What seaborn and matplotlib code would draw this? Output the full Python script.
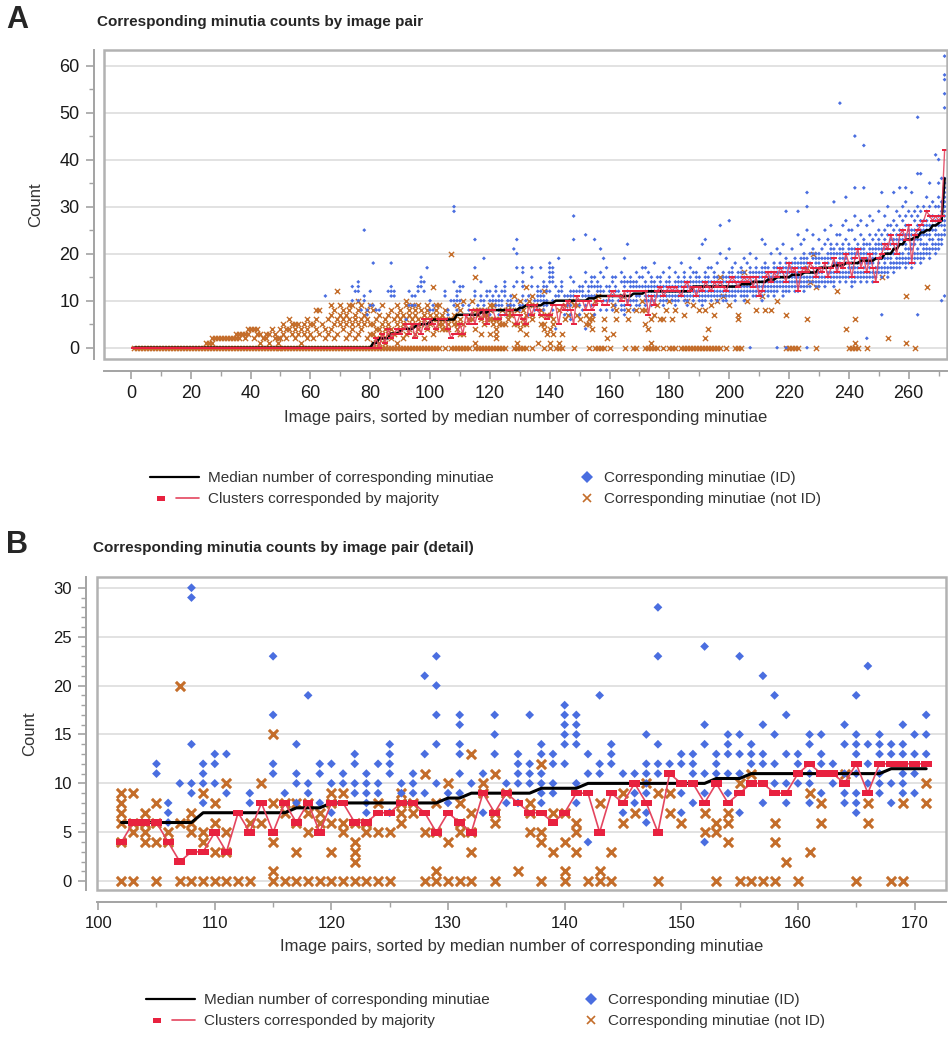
import numpy as np
import pandas as pd
import matplotlib
matplotlib.use("Agg")
import matplotlib.pyplot as plt
import seaborn as sns
from matplotlib.patches import Rectangle
from matplotlib.lines import Line2D
from matplotlib.path import Path
from matplotlib.legend_handler import HandlerTuple

# ---------------- DATA ----------------
# Panel B (detail, pairs 102-171): median, cluster-majority, ID counts, not-ID counts
b_pairs = list(range(102, 172))
b_median = [6, 6, 6, 6, 6, 6, 6, 7, 7, 7,
            7, 7, 7, 7, 7, 7.5, 7.5, 7.5, 8, 8,
            8, 8, 8, 8, 8, 8, 8, 8, 8.5, 8.5,
            9, 9, 9, 9, 9, 9, 9.5, 9.5, 9.5, 9.5,
            10, 10, 10, 10, 10, 10, 10, 10, 10, 10,
            10, 10.5, 10.5, 10.5, 11, 11, 11, 11, 11, 11,
            11, 11, 11, 11, 11, 11, 11.5, 11.5, 11.5, 11.5]
b_cluster = [4, 6, 6, 6, 4, 2, 3, 3, 5, 3,
             7, 5, 8, 5, 8, 6, 8, 5, 8, 8,
             6, 6, 7, 7, 8, 8, 7, 5, 7, 6,
             5, 9, 7, 9, 8, 7, 7, 6, 7, 9,
             9, 5, 9, 8, 10, 8, 5, 11, 10, 10,
             8, 10, 8, 9, 10, 10, 9, 9, 11, 12,
             11, 11, 10, 12, 9, 12, 12, 12, 12, 12]
b_id = [[], [], [], [12, 11], [8, 7, 6], [10], [30, 29, 14, 10, 9], [12, 11, 10, 8], [13, 12, 10], [13, 9],
        [], [9, 8], [], [23, 17, 12, 11], [9], [14, 11, 10, 8], [19, 10, 9], [12, 11, 8], [12, 10, 7], [11, 10],
        [13, 12, 10, 9], [11, 10, 9, 8, 7], [12, 10, 9], [14, 13, 12, 11, 7], [10, 9], [11, 10, 9], [21, 13, 9],
        [23, 20, 17, 14, 10], [9, 8], [17, 16, 14, 13, 11, 9],
        [10], [11, 7], [17, 15, 13], [10, 8], [13, 12, 11, 10, 8], [17, 12, 11, 10], [14, 13, 11, 10, 9, 8],
        [13, 12, 10, 9], [18, 17, 16, 15, 14, 12], [17, 16, 15, 14, 10, 8],
        [13, 11, 4], [19, 12, 11], [14, 13, 12], [11, 7], [11, 9, 8], [15, 12, 11, 10, 9, 7, 6],
        [28, 23, 14, 12, 11], [12], [13, 12, 9, 7], [13, 12, 11, 8],
        [24, 16, 14, 11, 9, 4], [13, 12, 11], [15, 14, 13, 11, 9], [23, 15, 13, 11, 7], [14, 13, 12],
        [21, 16, 13, 12, 8], [19, 15, 12, 10], [17, 13, 10, 8], [13, 12, 10], [15, 14, 11, 10, 8],
        [15, 13, 12, 9], [12, 10], [16, 14, 11, 9, 8], [19, 15, 14, 13, 11, 9, 8, 7], [22, 14, 12, 10],
        [15, 14, 13, 11, 10, 9], [14, 13, 10, 8], [16, 14, 13, 11, 10, 9], [15, 13, 11, 9], [17, 15, 13]]
b_nid = [[9, 8, 7, 6, 4, 0], [9, 6, 5, 0], [7, 6, 5, 4], [8, 6, 4, 0], [5, 4], [20, 6, 0], [7, 6, 5, 0],
         [9, 5, 4, 0], [8, 6, 3, 0], [10, 5, 3, 0],
         [0], [6, 0], [10, 6], [15, 8, 4, 1, 0], [8, 7, 0], [8, 6, 3, 0], [8, 7, 5, 0], [7, 6, 0],
         [9, 8, 6, 3, 0], [9, 6, 5, 0],
         [6, 4, 3, 2, 0], [6, 5, 0], [8, 5, 0], [5, 0], [9, 8, 7, 6], [8, 7], [11, 5, 0], [8, 5, 1, 0],
         [10, 4, 0], [8, 6, 5, 0],
         [13, 7, 5, 3, 0], [10, 9], [11, 7, 6, 0], [9], [1], [8, 7, 5], [12, 5, 4, 0], [7, 3], [7, 4, 1, 0],
         [6, 5, 3],
         [0], [8, 1, 0], [3, 0], [9, 6], [7], [10], [9, 0], [9, 7], [6], [],
         [7, 5], [6, 5, 0], [7, 6, 4], [10, 0], [11, 0], [0], [6, 4, 0], [2], [0], [9, 3],
         [8, 6], [], [11], [0], [8, 6], [], [0], [8, 0], [], [10, 8]]

# Panel A, pairs 1-101
a_lo_median = [0] * 80 + [1, 1, 2, 2, 2, 2, 3, 3, 3, 3.5, 4, 4, 4, 4, 4.5, 5, 5, 5, 5, 5.5, 6]
a_lo_cluster = [0] * 80 + [0, 2, 0, 3, 1, 4, 2, 3, 4, 3, 4, 5, 3, 5, 2, 5, 3, 6, 4, 6, 5]
a_lo_nid = ["0"] * 24 + [
    "0 1", "0 1", "0 1 2", "0 2", "0 2", "0 2", "0 2", "0 2", "0 2", "0 2",
    "0 2 3", "0 2 3", "0 3", "0 2 3", "0 3 4", "0 4", "0 2 4", "0 3 4", "0 1 3", "0 2",
    "0 2 3", "0 1 3", "0 4", "0 2 3", "0 1 2", "0 2 4", "0 3 5", "0 2 4", "0 4 6", "0 3 5",
    "0 2 4 5", "0 3 5", "0 1 4", "0 3 5", "0 2 4 6", "0 3 5", "0 2 5", "0 4 6 8", "0 3 8", "0 5",
    "0 2 4", "0 3 6", "0 4 7 9", "0 2 5 8", "0 3 6 12", "0 5 7 9", "0 4 6 8", "0 2 5 7", "0 3 6 8 9", "0 4 5 9",
    "0 2 6 7", "0 3 5 8 10", "0 4 6 9", "0 5 7", "0 2 6 8", "0 3 5 9", "0 1 3 5 8", "0 2 4 6", "0 1 4 7", "0 2 3 5 9",
    "0 1 4 6", "0 3 5 7", "0 2 4 8", "0 3 6", "0 1 5 7 9", "0 4 6 8", "0 2 5 7", "0 3 6 9 10", "0 4 7 8", "0 5 6 9",
    "0 3 7 8", "0 4 6 9", "0 5 8", "0 2 6 7", "0 4 8 9", "0 5 7", "0 3 6 13"]
a_lo_id = {65: "11", 74: "10 13", 75: "12", 76: "10 12 13 14", 77: "8", 78: "10 11 25", 79: "7 8",
           80: "9 12", 81: "9 18", 82: "8", 83: "8", 86: "12", 87: "11 12 13 18", 88: "11 12",
           92: "6", 93: "9 12", 94: "9 11", 95: "9 11", 96: "12 13", 97: "13 14 15", 98: "12 14",
           99: "17", 100: "8 10", 101: "8 9"}

# Panel A, pairs 172-272
a_hi_median = [12, 12, 12, 12, 12, 12, 12, 12, 12, 12,
               12, 12, 12, 12, 12, 12, 13, 13, 13, 13,
               13, 13, 13, 13, 13, 13, 13, 13, 13, 13,
               13, 13, 13.5, 13.5, 13.5, 13.5, 14, 14, 14, 14,
               14, 14.5, 14.5, 14.5, 15, 15, 15, 15, 15, 15.5,
               15.5, 15.5, 15.5, 16, 16, 16, 16, 16, 17, 17,
               17, 17, 17, 17.5, 17.5, 17.5, 17.5, 18, 18, 18,
               18, 18, 18.5, 18.5, 18.5, 18.5, 18.5, 19, 19, 19,
               20, 20, 20, 21, 21, 22, 22, 23, 23, 23,
               23.5, 23.5, 24.5, 24.5, 25, 25, 26, 26, 26.5, 27,
               36]
a_hi_cluster = [12, 7, 11, 9, 12, 13, 11, 12, 13, 12,
                13, 12, 11, 13, 14, 12, 13, 11, 13, 12,
                14, 13, 12, 14, 13, 14, 13, 12, 14, 15,
                14, 13, 14, 15, 14, 15, 13, 15, 11, 12,
                15, 16, 14, 16, 15, 17, 16, 14, 18, 16,
                17, 12, 16, 17, 16, 18, 17, 15, 17, 16,
                18, 15, 17, 19, 16, 18, 17, 20, 18, 15,
                19, 21, 17, 19, 16, 20, 17, 14, 19, 20,
                22, 21, 24, 22, 20, 24, 25, 23, 26, 18,
                24, 25, 26, 27, 29, 28, 27, 28, 27, 28,
                42]
a_hi_id = [
    "9-14 17", "10-13 16", "9-15", "10-14 18", "11-13 15", "10-15", "9-13 16", "10-14", "11-15 17", "10-13",
    "9-14 16", "10-15", "11-14 18", "10-16", "9-14", "11-15 17", "10-14 16", "11-16", "10-15 19", "9-14 22",
    "10-16 23", "11-15 17", "10-14 17", "11-16", "10-15 18", "11-14 20 26", "10-16", "10-15 19", "11-16 21 27", "11-17",
    "10-15 18", "12-16", "11-17", "10-16 19", "11-15 18", "0 12-17 20", "11-16", "11-17 19", "12-16", "10-17 23",
    "12-18 22", "11-17", "12-16 20", "11-18", "0 12-17 21", "13-18 20", "11-17 22", "0 12-19 29", "12-18", "13-18 21",
    "12-19", "12-18 24 29", "13-19 22", "12-20 23",
    "0 13-15 17-19 25 30 33", "13-16 18 20", "14-17 19-21 24", "13-15 17-20", "13-16 18-20 23", "14-17 19 21",
    "13-15 17-19 22 25", "14-16 18-20 23", "14-17 19-22 26", "13-16 18-21 31", "15-18 20 22 24",
    "14-16 18-21 24 52", "15-17 19-22 26", "14-16 18-20 23 27 32", "15-18 20-22 25", "13-15 17-21 25",
    "14-17 19-21 23 28 34 45", "15-18 20-22 26", "14-16 18-21 24 27", "15-17 19-23 34 43", "2 14-16 18-20 22 26",
    "15-18 20-22 24 28", "14-16 18-21 23 27", "15-17 19-22 24", "16-19 21-23 25 29", "7 15-17 19-22 24 33",
    "16-19 21-23 25 28", "15-17 19-22 24 26 30", "17-20 22-24 26", "16-18 20-23 25 27 33", "17-19 21-24 26 29",
    "17-20 22-25 28 34", "18-20 22-25 27 30", "17-19 21-24 26 28 31 34", "18-21 23-26 29", "17-19 21-25 28 33",
    "18-20 22-25 27 29", "7 19-21 23-26 28 30 37 49", "18-20 22-25 27 29 37", "19-22 24-27 30",
    "20-22 24-27 29 32", "19-21 23-26 28 30 35", "21-23 25-28 31", "20-22 24-27 30 41",
    "21-24 26-28 30 32 35 40", "10 22-24 26-29 31 36",
    "11 24-36 51 54 57 58 62"]
a_hi_nid = [
    "0 5 8", "0 4", "0 1 6", "0 7", "0 9", "6", "0 6", "8", "0 10", "0 6",
    "0 8", "", "0", "0 7", "0 10", "0", "0 9", "0", "0 8", "0",
    "0 2 8", "0 4", "0 9", "0 7", "0 10", "0 15", "11", "0", "9", "",
    "0", "0 6 7", "0", "16", "10", "", "", "8", "", "11",
    "8", "", "8", "", "10", "", "", "0 7", "0", "0",
    "0", "0", "", "", "6 17", "14", "20", "0 13", "", "",
    "", "", "", "", "12", "", "", "4", "0", "0",
    "0 1 6", "0", "", "", "0", "", "", "", "", "15",
    "", "2", "", "", "", "", "", "1 11", "", "",
    "0", "", "", "", "13", "", "", "", "", "",
    ""]

# Axis ticks / text
a_xticks = list(range(0, 261, 20))
a_yticks = list(range(0, 61, 10))
b_xticks = list(range(100, 171, 10))
b_yticks = list(range(0, 31, 5))
title_a = "Corresponding minutia counts by image pair"
title_b = "Corresponding minutia counts by image pair (detail)"
xlabel = "Image pairs, sorted by median number of corresponding minutiae"
ylabel = "Count"
leg_labels = ["Median number of corresponding minutiae", "Clusters corresponded by majority",
              "Corresponding minutiae (ID)", "Corresponding minutiae (not ID)"]


def expand(s):
    vals = []
    for tok in s.split():
        if "-" in tok:
            a, b = tok.split("-")
            vals.extend(range(int(a), int(b) + 1))
        else:
            vals.append(int(tok))
    return vals


# ---------------- BUILD TABLES ----------------
def long_table(pairs, lists):
    rows = [(p, v) for p, vs in zip(pairs, lists) for v in vs]
    return pd.DataFrame(rows, columns=["pair", "count"])


lo_pairs = list(range(1, 102))
hi_pairs = list(range(172, 273))
a_pairs = lo_pairs + b_pairs + hi_pairs
a_id_lists = [expand(a_lo_id.get(p, "")) for p in lo_pairs] + b_id + [expand(s) for s in a_hi_id]
a_nid_lists = [expand(s) for s in a_lo_nid] + b_nid + [expand(s) for s in a_hi_nid]
a_med = a_lo_median + b_median + a_hi_median
a_clu = a_lo_cluster + b_cluster + a_hi_cluster

dfA_id = long_table(a_pairs, a_id_lists)
dfA_nid = long_table(a_pairs, a_nid_lists)
dfA_line = pd.DataFrame({"pair": a_pairs, "median": a_med, "cluster": a_clu})
dfB_id = long_table(b_pairs, b_id)
dfB_nid = long_table(b_pairs, b_nid)
dfB_line = pd.DataFrame({"pair": b_pairs, "median": b_median, "cluster": b_cluster})

# ---------------- STYLE ----------------
sns.set_theme(style="white")
plt.rcParams["font.family"] = ["Liberation Sans", "DejaVu Sans"]

BLUE = "#4a6ee0"
ORANGE = "#c46d2a"
RED = "#e8213f"
REDLINE = "#e4455f"
FRAME = "#b2b2b2"
SPINE = "#a3a3a3"
GRID = "#dddddd"
rect_marker = Path([(-1, -0.6), (1, -0.6), (1, 0.6), (-1, 0.6), (-1, -0.6)],
                   [Path.MOVETO, Path.LINETO, Path.LINETO, Path.LINETO, Path.CLOSEPOLY])

fig = plt.figure(figsize=(9.48, 10.4), dpi=100)
W, H = 948, 1040


def fx(px):
    return px / W


def fy(py):
    return 1 - py / H


def style_axes(ax, xlim, ylim, xmaj, xmin, ymaj, ymin, xoff, yoff, lsize):
    ax.set_xlim(*xlim)
    ax.set_ylim(*ylim)
    for s in ["top", "right"]:
        ax.spines[s].set_visible(False)
    ax.spines["left"].set_position(("outward", yoff))
    ax.spines["bottom"].set_position(("outward", xoff))
    for s in ["left", "bottom"]:
        ax.spines[s].set_color(SPINE)
        ax.spines[s].set_linewidth(1.4)
    ax.add_patch(Rectangle((0, 0), 1, 1, transform=ax.transAxes, fill=False,
                           ec=FRAME, lw=1.8, clip_on=False, zorder=6))
    ax.set_xticks(xmaj)
    ax.set_xticks(xmin, minor=True)
    ax.set_yticks(ymaj)
    ax.set_yticks(ymin, minor=True)
    ax.tick_params(which="major", length=6, width=1.2, color=SPINE, labelsize=lsize,
                   labelcolor="#1a1a1a", pad=4, bottom=True, left=True)
    ax.tick_params(which="minor", length=3.5, width=1.0, color=SPINE, bottom=True, left=True)
    ax.grid(False)
    for y in ymaj:
        ax.axhline(y, color=GRID, lw=1.2, zorder=0)
    ax.set_xlabel(xlabel, fontsize=12, color="#333333", labelpad=6)
    ax.set_ylabel(ylabel, fontsize=12, color="#333333", labelpad=12)


# ---------------- PANEL A ----------------
axA = fig.add_axes([fx(104), fy(359), fx(947) - fx(104), fy(50) - fy(359)])
sns.scatterplot(data=dfA_nid, x="pair", y="count", marker="x", s=14, color=ORANGE,
                linewidth=1.0, ax=axA, zorder=2)
sns.scatterplot(data=dfA_id, x="pair", y="count", marker="D", s=4, color=BLUE,
                edgecolor="none", linewidth=0, ax=axA, zorder=3)
sns.lineplot(data=dfA_line, x="pair", y="median", color="black", lw=1.8,
             estimator=None, ax=axA, zorder=4)
sns.lineplot(data=dfA_line, x="pair", y="cluster", color=REDLINE, lw=1.0,
             estimator=None, ax=axA, zorder=5, alpha=0.9)
sns.scatterplot(data=dfA_line, x="pair", y="cluster", marker="_", s=14, color=RED,
                linewidth=1.4, ax=axA, zorder=5)
style_axes(axA, (-9, 272.8), (-2.4, 63.3), a_xticks, list(range(10, 271, 20)),
           a_yticks, list(range(5, 61, 10)), 8.5, 7.5, 13)

# ---------------- PANEL B ----------------
axB = fig.add_axes([fx(97), fy(890), fx(946) - fx(97), fy(577) - fy(890)])
sns.scatterplot(data=dfB_nid, x="pair", y="count", marker="x", s=44, color=ORANGE,
                linewidth=2.2, ax=axB, zorder=2)
sns.scatterplot(data=dfB_id, x="pair", y="count", marker="D", s=20, color=BLUE,
                edgecolor="none", linewidth=0, ax=axB, zorder=3)
sns.lineplot(data=dfB_line, x="pair", y="median", color="black", lw=2.2,
             estimator=None, ax=axB, zorder=4)
sns.lineplot(data=dfB_line, x="pair", y="cluster", color=REDLINE, lw=1.2,
             estimator=None, ax=axB, zorder=5)
sns.scatterplot(data=dfB_line, x="pair", y="cluster", marker=rect_marker, s=60, color=RED,
                edgecolor="none", linewidth=0, ax=axB, zorder=5)
style_axes(axB, (99.9, 172.7), (-0.9, 31.1), b_xticks, list(range(105, 171, 10)),
           b_yticks, [v for v in range(0, 31) if v % 5], 8.5, 8.0, 12)

# ---------------- TEXT ----------------
fig.text(fx(6), fy(20), "A", fontsize=22, fontweight="bold", va="center", ha="left")
fig.text(fx(97), fy(22), title_a, fontsize=11, fontweight="bold", va="center", ha="left")
fig.text(fx(6), fy(545), "B", fontsize=22, fontweight="bold", va="center", ha="left")
fig.text(fx(93), fy(548), title_b, fontsize=11, fontweight="bold", va="center", ha="left")

# ---------------- LEGENDS ----------------
def legend_handles(msz):
    h_med = Line2D([], [], color="black", lw=1.6)
    h_sq = Line2D([], [], marker=rect_marker, color=RED, ls="none", markersize=msz, mew=0)
    h_rl = Line2D([], [], color=REDLINE, lw=1.2)
    h_id = Line2D([], [], marker="D", color=BLUE, ls="none", markersize=6, mew=0)
    h_nid = Line2D([], [], marker="x", color=ORANGE, ls="none", markersize=6, mew=1.2)
    return h_med, (h_sq, h_rl), h_id, h_nid


for top, lx, rx in [(471, 150, 578), (993, 146, 582)]:
    h_med, h_clu, h_id, h_nid = legend_handles(6)
    l1 = fig.legend([h_med, h_clu], leg_labels[:2], loc="upper left",
                    bbox_to_anchor=(fx(lx), fy(top)), frameon=False, fontsize=11,
                    handlelength=3.2, handletextpad=0.6, labelspacing=0.45,
                    borderpad=0, borderaxespad=0,
                    handler_map={tuple: HandlerTuple(ndivide=2, pad=0.2)})
    l2 = fig.legend([h_id, h_nid], leg_labels[2:], loc="upper left",
                    bbox_to_anchor=(fx(rx), fy(top)), frameon=False, fontsize=11,
                    handlelength=1.2, handletextpad=0.5, labelspacing=0.45,
                    borderpad=0, borderaxespad=0)
    for lg in (l1, l2):
        for t in lg.get_texts():
            t.set_color("#333333")

fig.savefig("out.png", dpi=100)
